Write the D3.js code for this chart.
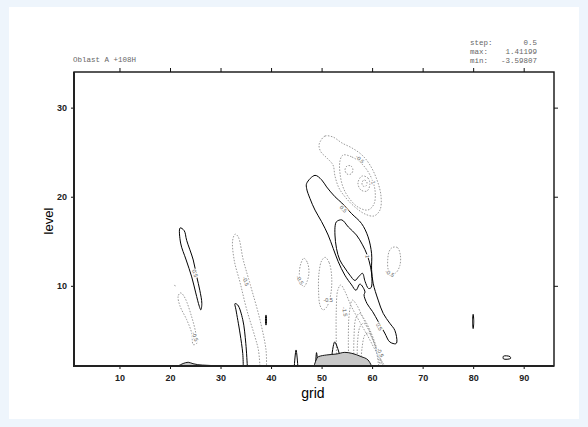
<!DOCTYPE html>
<html>
<head>
<meta charset="utf-8">
<script src="https://cdn.jsdelivr.net/npm/d3@7"></script>
<style>
  body { margin: 0; background: #eef5fc; }
  .tick text { font-family: "Liberation Sans", Arial, sans-serif; font-weight: bold; font-size: 9px; fill: #222; }
  .tick line { stroke: #111; stroke-width: 1; }
  .hdr { font-family: "Liberation Mono", "DejaVu Sans Mono", monospace; font-size: 7.5px; fill: #666; }
  .clab { font-family: "Liberation Sans", Arial, sans-serif; font-size: 5.5px; fill: #555;
          stroke: #fff; stroke-width: 2px; paint-order: stroke; }
</style>
</head>
<body>
<script>
// axis setup
var margin = {top: 72, right: 34, bottom: 61, left: 74},
    width = 588 - margin.left - margin.right,
    height = 427 - margin.top - margin.bottom;

var gridTicks = [10, 20, 30, 40, 50, 60, 70, 80, 90];
var levelTicks = [10, 20, 30];
var gridDomain = [1, 96];
var levelDomain = [1, 34];

// header info
var titleText = "Oblast A +108H";
var statNames = ["step:", "max:", "min:"];
var statValues = ["0.5", "1.41199", "-3.59807"];

// contours: [grid, level] points
var posA = [[22.0,16.5],[22.1,14.8],[23.2,12.9],[24.3,11.0],[25.1,9.2],[25.8,7.7],[26.1,7.3],[26.3,8.0],[25.9,9.5],[25.3,11.0],[24.6,12.9],[23.3,15.1],[22.8,16.2]];
var negB = [[22.0,9.2],[21.6,8.8],[22.0,7.7],[23.3,6.2],[24.3,4.7],[24.6,3.4],[25.3,3.55],[25.1,4.7],[24.3,6.5],[23.0,8.6],[22.3,9.16]];
var negBtip = [[20.9,10.1],[21.1,9.9]];
var negC = [[37.8,1.0],[37.5,2.8],[36.8,4.3],[35.2,7.3],[33.9,10.3],[32.7,12.9],[32.4,15.1],[32.9,15.8],[33.5,15.5],[34.5,12.9],[35.8,10.3],[37.8,6.2],[39.0,2.8],[39.1,1.0]];
var posD = [[34.5,1.0],[34.4,2.4],[33.85,4.7],[33.06,7.3],[32.86,8.0],[33.4,7.85],[34.4,6.2],[35.0,3.55],[35.3,1.0]];
var posE = [[38.97,6.7],[39.03,6.7],[39.03,5.6],[38.97,5.6]];
var posF = [[47.05,21.5],[48.7,22.4],[50.0,21.9],[51.0,21.1],[52.65,20.0],[54.0,19.3],[55.95,18.1],[57.9,17.0],[59.2,15.5],[59.9,13.6],[59.9,11.8],[60.2,10.3],[61.2,8.4],[62.2,6.9],[63.5,5.8],[64.5,5.0],[64.9,3.7],[64.7,3.5],[63.5,3.7],[62.5,4.7],[61.2,6.0],[60.1,7.1],[59.0,8.0],[58.4,9.0],[58.6,9.3],[57.6,10.2],[56.8,9.5],[55.95,10.1],[54.6,11.2],[53.3,12.7],[52.3,14.2],[51.3,15.7],[50.0,17.2],[48.7,18.5],[47.7,19.8],[47.05,20.9]];
var posG = [[52.95,17.2],[54.0,17.4],[55.3,16.6],[56.9,15.7],[58.1,14.6],[59.0,13.5],[59.7,12.1],[59.97,10.8],[59.8,9.8],[59.3,9.7],[58.6,10.5],[58.1,11.4],[57.3,11.0],[56.6,10.6],[55.6,11.2],[54.6,12.0],[53.6,12.9],[52.95,14.2],[52.65,15.7],[52.7,16.8]];
var spike1 = [[44.6,1.0],[44.95,2.8],[45.3,1.0]];
var spike2 = [[48.8,1.0],[49.0,2.5],[49.3,1.0]];
var spike3 = [[52.0,2.0],[52.6,3.7],[53.6,2.2]];
var posLens = [[80.0,6.8],[80.12,6.0],[80.0,5.2],[79.88,6.0]];
var posSmall = [[86.0,2.1],[87.3,2.05],[87.4,1.85],[86.0,1.8]];
var negH = [[46.5,13.1],[47.2,12.6],[47.5,11.6],[47.2,10.6],[46.5,9.9],[45.9,10.3],[45.6,11.4],[45.9,12.5]];
var negI = [[50.7,13.2],[51.5,12.6],[52.0,11.0],[51.8,9.0],[51.0,7.6],[50.3,7.3],[49.7,7.8],[49.4,9.5],[49.5,11.5],[50.0,12.8]];
var negJ = [[64.0,14.3],[65.0,14.3],[65.6,13.4],[65.5,12.3],[64.8,11.5],[63.9,11.2],[63.2,11.8],[63.1,13.0],[63.4,13.9]];
var negK1 = [[49.68,26.14],[50.67,26.81],[52.26,26.7],[54.04,26.03],[56.02,25.47],[58.0,24.68],[59.58,23.56],[60.97,21.88],[61.76,20.08],[61.56,18.51],[60.37,17.84],[58.59,18.06],[56.61,18.84],[54.83,19.86],[53.44,20.98],[52.65,22.33],[52.26,23.56],[51.07,24.34],[49.88,25.02],[49.49,25.69]];
var negK2 = [[54.24,24.68],[56.02,24.46],[58.0,23.67],[59.58,22.44],[60.57,20.75],[60.37,19.18],[59.18,18.51],[57.2,18.84],[55.42,19.86],[54.24,21.09],[53.64,22.66],[53.64,24.01]];
var negK3 = [[55.03,23.45],[55.82,23.45],[56.21,23.0],[55.82,22.55],[55.03,22.55],[54.63,23.0]];
var negK4 = [[57.99,22.32],[59.18,22.1],[59.58,21.43],[58.98,20.64],[57.8,20.75],[57.2,21.54]];
var negK5 = [[58.39,21.88],[58.98,21.65],[58.78,21.2],[58.19,21.2],[57.99,21.54]];
var negM1 = [[53.0,1.0],[52.9,4.0],[52.9,7.0],[53.2,9.5],[53.8,10.1],[54.6,9.4],[55.8,7.8],[57.5,6.0],[59.2,4.3],[60.8,2.6],[62.5,1.0]];
var negM2 = [[55.4,1.0],[55.3,4.0],[55.5,7.0],[56.1,8.4],[56.9,7.9],[58.2,6.4],[59.7,4.6],[61.0,2.8],[62.2,1.0]];
var negM3 = [[56.4,1.0],[56.4,4.0],[56.8,6.4],[57.5,6.9],[58.4,6.3],[59.6,5.0],[60.8,3.2],[61.9,1.0]];
var negM4 = [[57.1,1.0],[57.1,3.5],[57.6,5.4],[58.3,5.8],[59.2,5.2],[60.3,3.8],[61.6,1.0]];
var negM5 = [[57.8,1.0],[58.0,3.0],[58.6,4.5],[59.3,4.7],[60.1,4.0],[60.8,2.8],[61.3,1.0]];

var positiveClosed = [posA, posE, posF, posG, posLens, posSmall];
var positiveOpen = [posD, spike1, spike2, spike3];
var negativeClosed = [negB, negH, negI, negJ, negK1, negK2, negK3, negK4, negK5];
var negativeOpen = [negC, negBtip, negM1, negM2, negM3, negM4, negM5];

// terrain (shaded orography)
var terrainLeft = [[21.6,1.0],[22.6,1.28],[23.6,1.42],[24.55,1.26],[25.5,1.15],[27.3,1.08],[28.9,1.03],[31.0,1.0]];
var terrainRight = [[48.5,1.0],[49.35,2.04],[51.0,2.24],[53.0,2.35],[54.6,2.53],[56.0,2.42],[57.9,2.04],[59.2,1.67],[59.9,1.0]];

// contour labels: grid, level, text
var labelGrid  = [24.95, 24.95, 35.0, 54.3, 59.05, 61.4, 45.7, 51.3, 54.6, 63.5, 57.6, 60.2, 61.6];
var labelLevel = [11.4, 4.3, 10.5, 18.6, 13.3, 5.4, 10.65, 8.4, 7.1, 11.4, 24.2, 21.7, 2.5];
var labelText  = ["0.5", "-0.5", "-0.5", "0.5", "1", "0.5", "-0.5", "-0.5", "-1.5", "-0.5", "-0.5", "-1", "-0.5"];
var labelAngle = [72, 68, 70, 45, 80, 65, 60, 0, 80, 30, 45, 70, 65];

var svg = d3.select("body").append("svg")
    .attr("width", 588)
    .attr("height", 427);

svg.append("rect")
    .attr("x", 9).attr("y", 7)
    .attr("width", 570).attr("height", 412)
    .attr("fill", "#fff");

var g = svg.append("g")
    .attr("transform", "translate(" + margin.left + "," + margin.top + ")");

var xScale = d3.scaleLinear().domain(gridDomain).range([0, width]);
var yScale = d3.scaleLinear().domain(levelDomain).range([height, 0]);

g.append("clipPath").attr("id", "plotclip")
    .append("rect").attr("width", width).attr("height", height);

var plot = g.append("g").attr("clip-path", "url(#plotclip)");

var closedLine = d3.line()
    .x(function(d) { return xScale(d[0]); })
    .y(function(d) { return yScale(d[1]); })
    .curve(d3.curveCatmullRomClosed.alpha(0.5));

var openLine = d3.line()
    .x(function(d) { return xScale(d[0]); })
    .y(function(d) { return yScale(d[1]); })
    .curve(d3.curveCatmullRom.alpha(0.5));

function drawSet(sets, gen, dashed) {
    sets.forEach(function(pts) {
        plot.append("path")
            .attr("d", gen(pts))
            .attr("fill", "none")
            .attr("stroke", dashed ? "#9a9a9a" : "#000")
            .attr("stroke-width", 1)
            .attr("stroke-dasharray", dashed ? "1.5,1.5" : null)
            .attr("stroke-linejoin", "round");
    });
}

drawSet(negativeClosed, closedLine, true);
drawSet(negativeOpen, openLine, true);
drawSet(positiveClosed, closedLine, false);
drawSet(positiveOpen, openLine, false);

// contour labels
labelText.forEach(function(t, i) {
    plot.append("text")
        .attr("class", "clab")
        .attr("transform", "translate(" + xScale(labelGrid[i]) + "," + yScale(labelLevel[i]) + ") rotate(" + labelAngle[i] + ")")
        .attr("text-anchor", "middle")
        .attr("dy", "0.35em")
        .text(t);
});

// terrain
var area = d3.area()
    .x(function(d) { return xScale(d[0]); })
    .y0(yScale(levelDomain[0]))
    .y1(function(d) { return yScale(d[1]); })
    .curve(d3.curveMonotoneX);

[terrainLeft, terrainRight].forEach(function(t) {
    plot.append("path")
        .attr("d", area(t))
        .attr("fill", "#c8c8c8")
        .attr("stroke", "#000")
        .attr("stroke-width", 0.9);
});

// axes
var xAxisB = d3.axisBottom(xScale).tickValues(gridTicks).tickSize(3).tickSizeOuter(0).tickPadding(6);
var xAxisT = d3.axisTop(xScale).tickValues(gridTicks).tickSize(4).tickSizeOuter(0).tickFormat("");
var yAxisL = d3.axisLeft(yScale).tickValues(levelTicks).tickSize(3).tickSizeOuter(0).tickPadding(4);
var yAxisR = d3.axisRight(yScale).tickValues(levelTicks).tickSize(4).tickSizeOuter(0).tickFormat("");

[ [xAxisB, "translate(0," + height + ")"], [xAxisT, null], [yAxisL, null], [yAxisR, "translate(" + width + ",0)"] ]
    .forEach(function(a) {
        var ax = g.append("g").call(a[0]);
        if (a[1]) ax.attr("transform", a[1]);
        ax.select(".domain").remove();
    });

// frame
g.append("rect")
    .attr("width", width).attr("height", height)
    .attr("fill", "none").attr("stroke", "#111").attr("stroke-width", 1.4);
g.append("path")
    .attr("d", "M0,0V" + height + "H" + width)
    .attr("fill", "none").attr("stroke", "#222").attr("stroke-width", 2);

// axis titles
g.append("text")
    .attr("x", width / 2 - 1)
    .attr("y", height + 32)
    .attr("text-anchor", "middle")
    .style("font-family", "Liberation Sans, Arial, sans-serif")
    .style("font-size", "14px")
    .text("grid");

g.append("text")
    .attr("transform", "translate(-21.5," + (height / 2 + 2) + ") rotate(-90)")
    .attr("text-anchor", "middle")
    .style("font-family", "Liberation Sans, Arial, sans-serif")
    .style("font-size", "13px")
    .text("level");

// header
svg.append("text").attr("class", "hdr")
    .attr("x", 73).attr("y", 62)
    .text(titleText);

statNames.forEach(function(n, i) {
    svg.append("text").attr("class", "hdr")
        .attr("x", 470).attr("y", 44.5 + i * 9)
        .text(n);
    svg.append("text").attr("class", "hdr")
        .attr("x", 537).attr("y", 44.5 + i * 9)
        .attr("text-anchor", "end")
        .text(statValues[i]);
});
</script>
</body>
</html>
